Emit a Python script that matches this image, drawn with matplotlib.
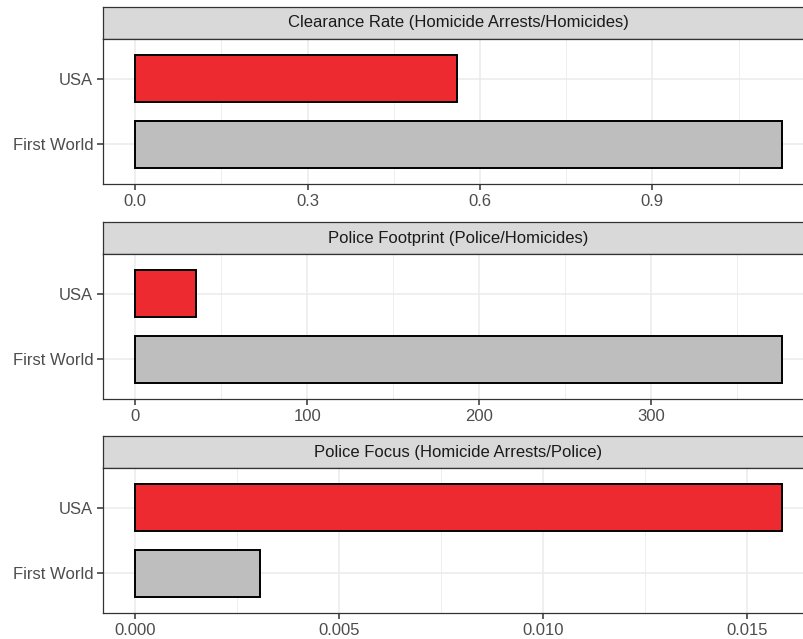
import matplotlib
matplotlib.use('Agg')
import matplotlib.pyplot as plt
from matplotlib.ticker import MultipleLocator

plt.rcParams['font.family'] = ['Liberation Sans', 'DejaVu Sans']

groups = ['First World', 'USA']
titles = ['Clearance Rate (Homicide Arrests/Homicides)',
          'Police Footprint (Police/Homicides)',
          'Police Focus (Homicide Arrests/Police)']
clearance = [1.125, 0.56]
footprint = [376, 35.5]
focus = [0.00306, 0.01586]
steps = [0.3, 100, 0.005]
fmts = ['{:.1f}', '{:.0f}', '{:.3f}']

bar_colors = ['#bebebe', '#ec2a30']
W, H = 804, 639

fig = plt.figure(figsize=(W / 100, H / 100), dpi=100)

# panel tops (strip top) in pixels
tops = [7, 222, 436]
strip_h = 32
panel_h = 145
left, right = 103, 814

for top, title, vals, step, fmt in zip(tops, titles, [clearance, footprint, focus], steps, fmts):
    # strip
    sax = fig.add_axes([left / W, 1 - (top + strip_h) / H, (right - left) / W, strip_h / H])
    sax.set_facecolor('#d9d9d9')
    sax.set_xticks([]); sax.set_yticks([])
    for s in sax.spines.values():
        s.set_color('#333333'); s.set_linewidth(0.9)
    sax.text(0.5, 0.5, title, ha='center', va='center', fontsize=12,
             color='#1a1a1a', transform=sax.transAxes)

    # panel
    ax = fig.add_axes([left / W, 1 - (top + strip_h + panel_h) / H,
                       (right - left) / W, panel_h / H])
    m = max(vals)
    ax.set_xlim(-0.05 * m, 1.05 * m)
    ax.set_ylim(0.4, 2.6)
    ax.barh([1, 2], vals, height=0.7, color=bar_colors, edgecolor='black', linewidth=1.4, zorder=3)
    ax.xaxis.set_major_locator(MultipleLocator(step))
    ax.xaxis.set_minor_locator(MultipleLocator(step / 2))
    ticks = [t for t in ax.get_xticks() if -0.05 * m <= t <= 1.05 * m]
    ax.set_xticks(ticks)
    ax.set_xticklabels([fmt.format(t) for t in ticks])
    ax.set_yticks([1, 2])
    ax.set_yticklabels(groups)
    ax.grid(which='major', color='#ebebeb', linewidth=1.1, zorder=0)
    ax.grid(which='minor', axis='x', color='#ebebeb', linewidth=0.6, zorder=0)
    ax.tick_params(which='major', length=4, width=1.1, color='#333333',
                   labelcolor='#4d4d4d', labelsize=12, pad=3)
    ax.tick_params(which='minor', length=0)
    for s in ax.spines.values():
        s.set_color('#333333'); s.set_linewidth(0.9)
    ax.set_axisbelow(True)

plt.savefig('out.png', dpi=100)
